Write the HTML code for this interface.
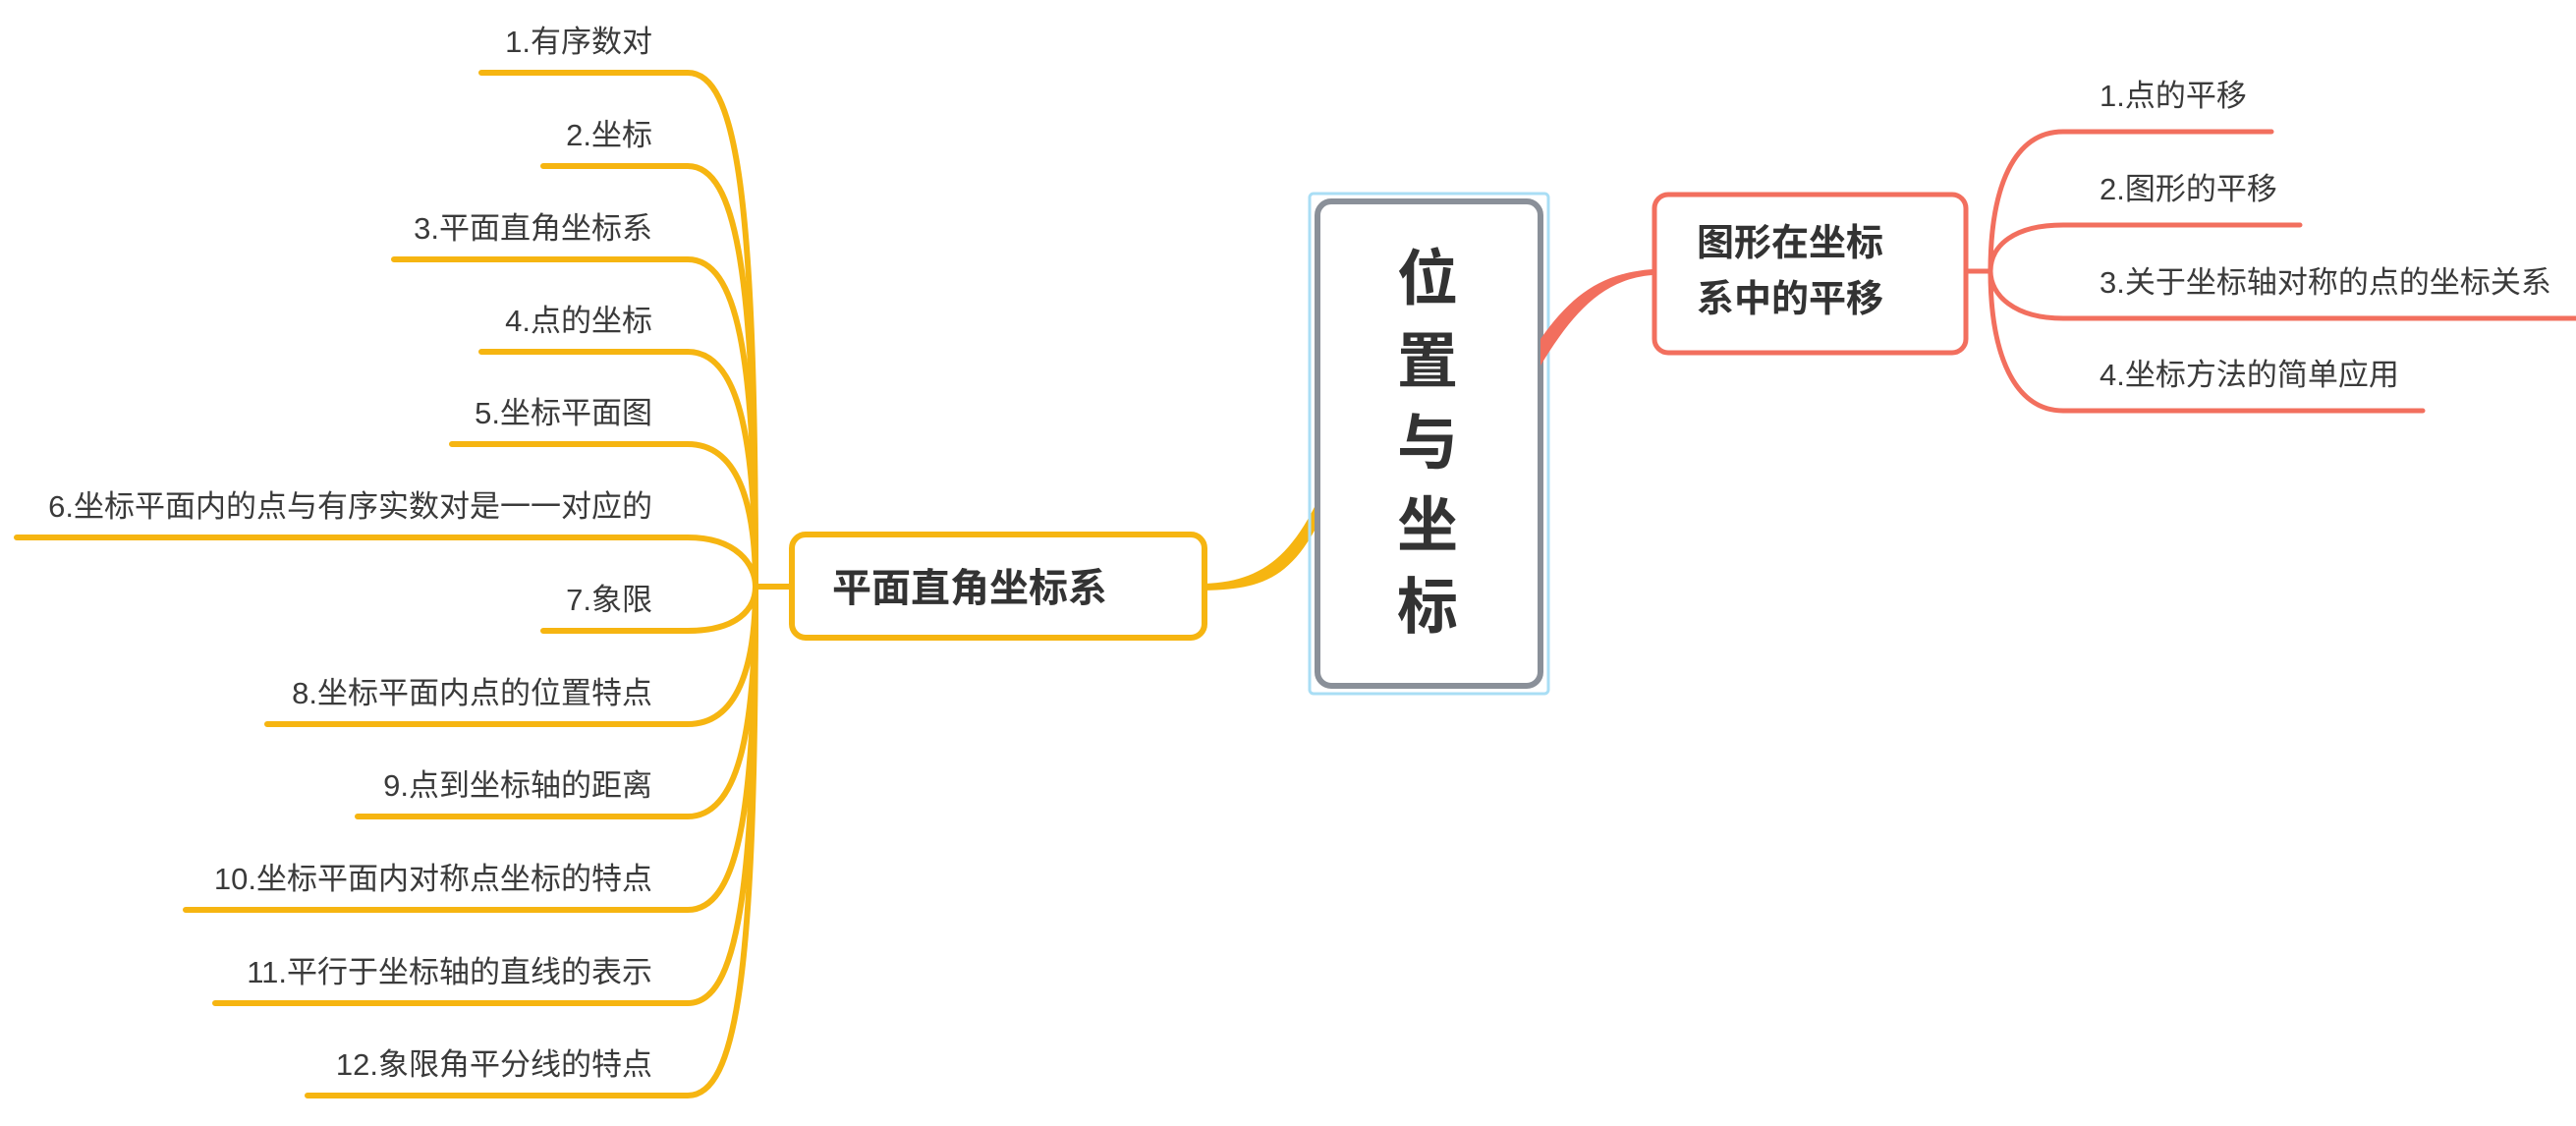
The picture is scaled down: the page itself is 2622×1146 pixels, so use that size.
<!DOCTYPE html>
<html><head><meta charset="utf-8"><style>
html,body{margin:0;padding:0;background:#fff;}
svg{display:block;}
text{font-family:"Liberation Sans","Noto Sans CJK SC",sans-serif;}
</style></head><body>
<svg width="2622" height="1146" viewBox="0 0 2622 1146" xmlns="http://www.w3.org/2000/svg">
<g fill="none" stroke="#f6b511" stroke-width="6" stroke-linecap="round">
<path d="M769,597 C769,200 750,74 700,74 L490,74"/>
<path d="M769,597 C769,280 750,169 700,169 L553,169"/>
<path d="M769,597 C769,360 750,264 700,264 L401,264"/>
<path d="M769,597 C769,440 750,358 700,358 L490,358"/>
<path d="M769,597 C769,510 750,452 700,452 L460,452"/>
<path d="M769,597 C769,575 750,547 700,547 L17,547"/>
<path d="M769,597 C769,620 750,642 700,642 L553,642"/>
<path d="M769,597 C769,680 750,737 700,737 L272,737"/>
<path d="M769,597 C769,750 750,831 700,831 L364,831"/>
<path d="M769,597 C769,830 750,926 700,926 L189,926"/>
<path d="M769,597 C769,910 750,1021 700,1021 L219,1021"/>
<path d="M769,597 C769,990 750,1115 700,1115 L313,1115"/>
<path d="M769,597 L804,597"/>
</g>
<path d="M1226,594 C1280,592 1310,570 1338,516 L1338,540 C1310,590 1280,600 1226,601 Z" fill="#f6b511"/>
<g fill="#3a3a3a" font-size="31" text-anchor="end">
<text x="664" y="53">1.有序数对</text>
<text x="664" y="148">2.坐标</text>
<text x="664" y="243">3.平面直角坐标系</text>
<text x="664" y="337">4.点的坐标</text>
<text x="664" y="431">5.坐标平面图</text>
<text x="664" y="526">6.坐标平面内的点与有序实数对是一一对应的</text>
<text x="664" y="621">7.象限</text>
<text x="664" y="716">8.坐标平面内点的位置特点</text>
<text x="664" y="810">9.点到坐标轴的距离</text>
<text x="664" y="905">10.坐标平面内对称点坐标的特点</text>
<text x="664" y="1000">11.平行于坐标轴的直线的表示</text>
<text x="664" y="1094">12.象限角平分线的特点</text>
</g>
<rect x="806" y="544" width="420" height="105" rx="14" fill="#fff" stroke="#f6b511" stroke-width="6"/>
<text x="847" y="612" font-size="40" font-weight="bold" fill="#333">平面直角坐标系</text>
<rect x="1333" y="197" width="243" height="509" rx="4" fill="none" stroke="#a9def5" stroke-width="3"/>
<rect x="1341" y="205" width="227" height="493" rx="14" fill="#fff" stroke="#8a9099" stroke-width="6"/>
<g font-size="62" font-weight="bold" fill="#333" text-anchor="middle">
<text x="1453" y="305">位</text>
<text x="1453" y="389">置</text>
<text x="1453" y="472">与</text>
<text x="1453" y="556">坐</text>
<text x="1453" y="639">标</text>
</g>
<path d="M1568,345 C1600,300 1630,278 1682,274 L1682,280 C1630,284 1600,320 1568,372 Z" fill="#f26f5e"/>
<g fill="none" stroke="#f26f5e" stroke-width="5" stroke-linecap="round">
<path d="M2001,276 L2026,276"/>
<path d="M2026,276 C2026,190 2050,134 2100,134 L2312,134"/>
<path d="M2026,276 C2026,250 2050,229 2100,229 L2341,229"/>
<path d="M2026,276 C2026,300 2050,324 2100,324 L2622,324"/>
<path d="M2026,276 C2026,360 2050,418 2100,418 L2466,418"/>
</g>
<rect x="1684" y="198" width="317" height="161" rx="14" fill="#fff" stroke="#f26f5e" stroke-width="5"/>
<g font-size="38" font-weight="bold" fill="#333">
<text x="1727" y="260">图形在坐标</text>
<text x="1727" y="317">系中的平移</text>
</g>
<g fill="#3a3a3a" font-size="31">
<text x="2137" y="108">1.点的平移</text>
<text x="2137" y="203">2.图形的平移</text>
<text x="2137" y="298">3.关于坐标轴对称的点的坐标关系</text>
<text x="2137" y="392">4.坐标方法的简单应用</text>
</g>
</svg>
</body></html>
